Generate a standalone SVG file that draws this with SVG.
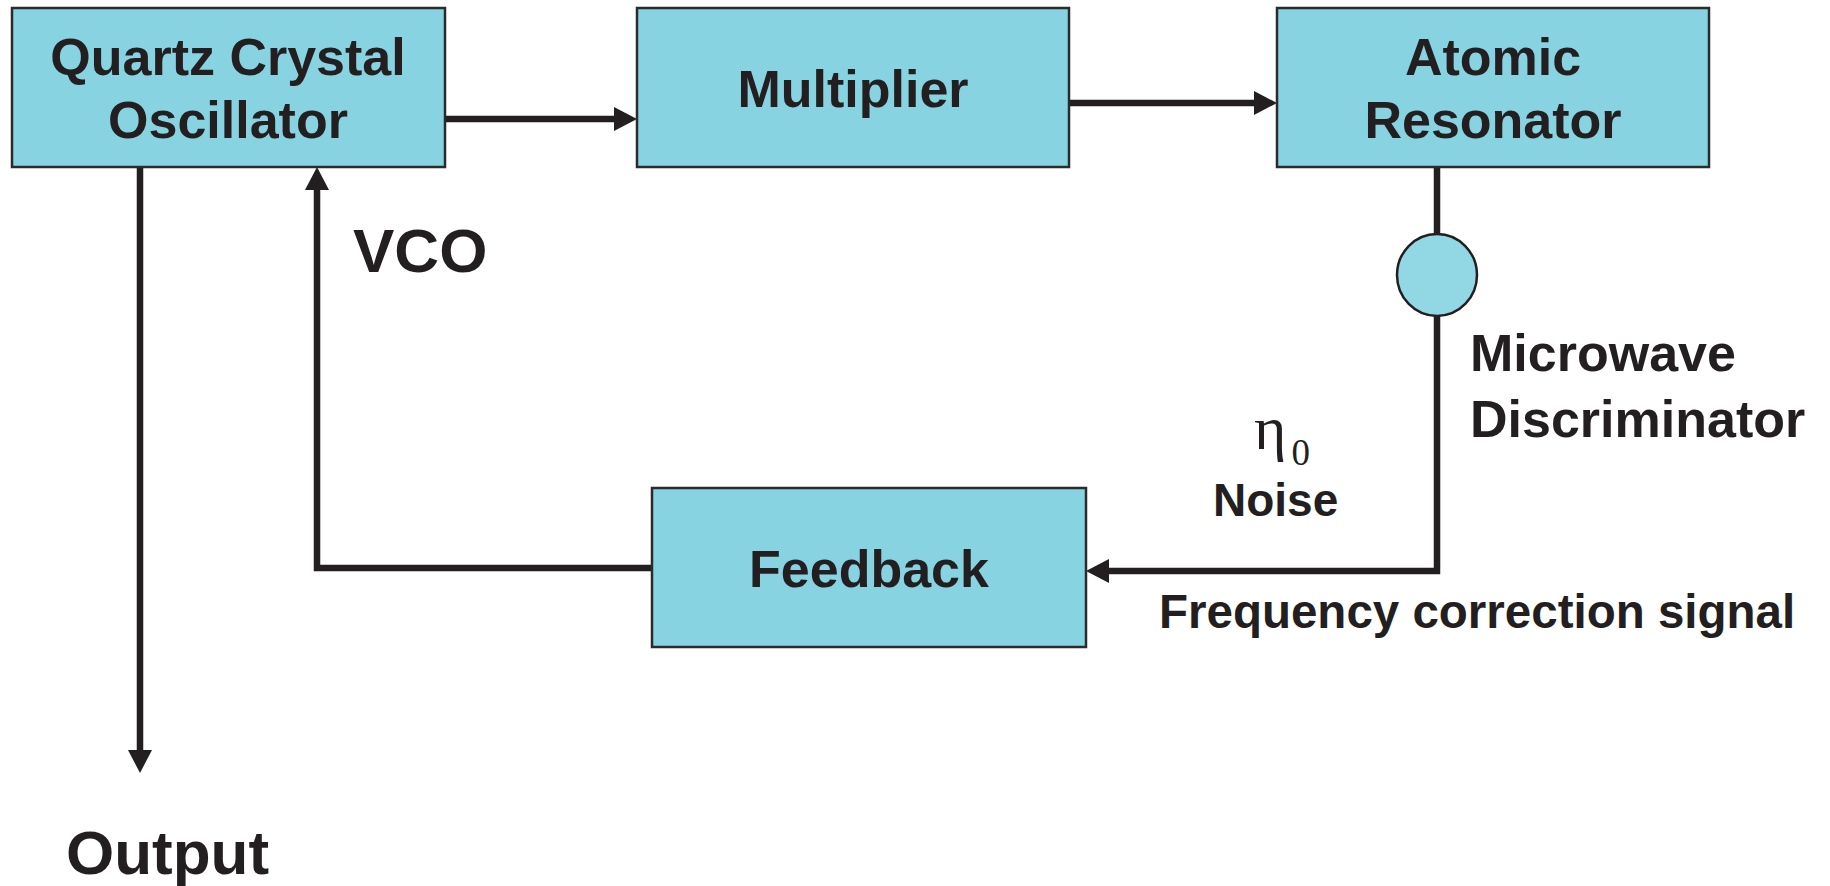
<svg xmlns="http://www.w3.org/2000/svg" width="1830" height="886" viewBox="0 0 1830 886">
  <defs>
    <marker id="head" viewBox="0 -12 23 24" markerWidth="23" markerHeight="24" refX="0" refY="0" markerUnits="userSpaceOnUse" orient="auto">
      <path d="M0,-12 L23,0 L0,12 Z" fill="#231f20"/>
    </marker>
    <style>
      .box { fill: #87d3e1; stroke: #2b2b2b; stroke-width: 2.5; }
      .dot { fill: #92d8e4; stroke: #231f20; stroke-width: 2.5; }
      .wire { fill: none; stroke: #231f20; stroke-width: 6.5; }
      .lbl { font-family: "Liberation Sans", Arial, Helvetica, sans-serif; font-weight: bold; fill: #231f20; }
      .mid { text-anchor: middle; font-size: 52px; }
      .sym { font-family: "Liberation Serif", "Times New Roman", serif; fill: #231f20; }
    </style>
  </defs>
  <rect width="1830" height="886" fill="#ffffff"/>

  <!-- connectors -->
  <g id="connectors">
    <line class="wire" x1="445" y1="119" x2="614" y2="119" marker-end="url(#head)"/>
    <line class="wire" x1="1069" y1="103" x2="1254" y2="103" marker-end="url(#head)"/>
    <line class="wire" x1="1437" y1="165" x2="1437" y2="234"/>
    <path class="wire" d="M1437,316 V571 H1109" marker-end="url(#head)"/>
    <path class="wire" d="M652,568 H317 V190" marker-end="url(#head)"/>
    <line class="wire" x1="140" y1="167" x2="140" y2="750" marker-end="url(#head)"/>
  </g>

  <g id="quartz">
    <rect class="box" x="12" y="8" width="433" height="159"/>
    <text class="lbl mid" x="228" y="75">Quartz Crystal</text>
    <text class="lbl mid" x="228" y="138">Oscillator</text>
  </g>

  <g id="multiplier">
    <rect class="box" x="637" y="8" width="432" height="159"/>
    <text class="lbl mid" x="853" y="107">Multiplier</text>
  </g>

  <g id="resonator">
    <rect class="box" x="1277" y="8" width="432" height="159"/>
    <text class="lbl mid" x="1493" y="75">Atomic</text>
    <text class="lbl mid" x="1493" y="138">Resonator</text>
  </g>

  <g id="discriminator">
    <ellipse class="dot" cx="1437" cy="275" rx="40" ry="41"/>
    <text class="lbl" x="1470" y="371" font-size="52">Microwave</text>
    <text class="lbl" x="1470" y="437" font-size="52">Discriminator</text>
  </g>

  <g id="feedback">
    <rect class="box" x="652" y="488" width="434" height="159"/>
    <text class="lbl mid" x="869" y="587">Feedback</text>
  </g>

  <g id="labels">
    <text class="lbl" x="353" y="272" font-size="62">VCO</text>
    <text class="sym" x="1254" y="449" font-size="62">η<tspan font-size="37" dx="5" dy="16">0</tspan></text>
    <text class="lbl" x="1213" y="516" font-size="46">Noise</text>
    <text class="lbl" x="1159" y="628" font-size="47.5">Frequency correction signal</text>
    <text class="lbl" x="66" y="874" font-size="62">Output</text>
  </g>
</svg>
